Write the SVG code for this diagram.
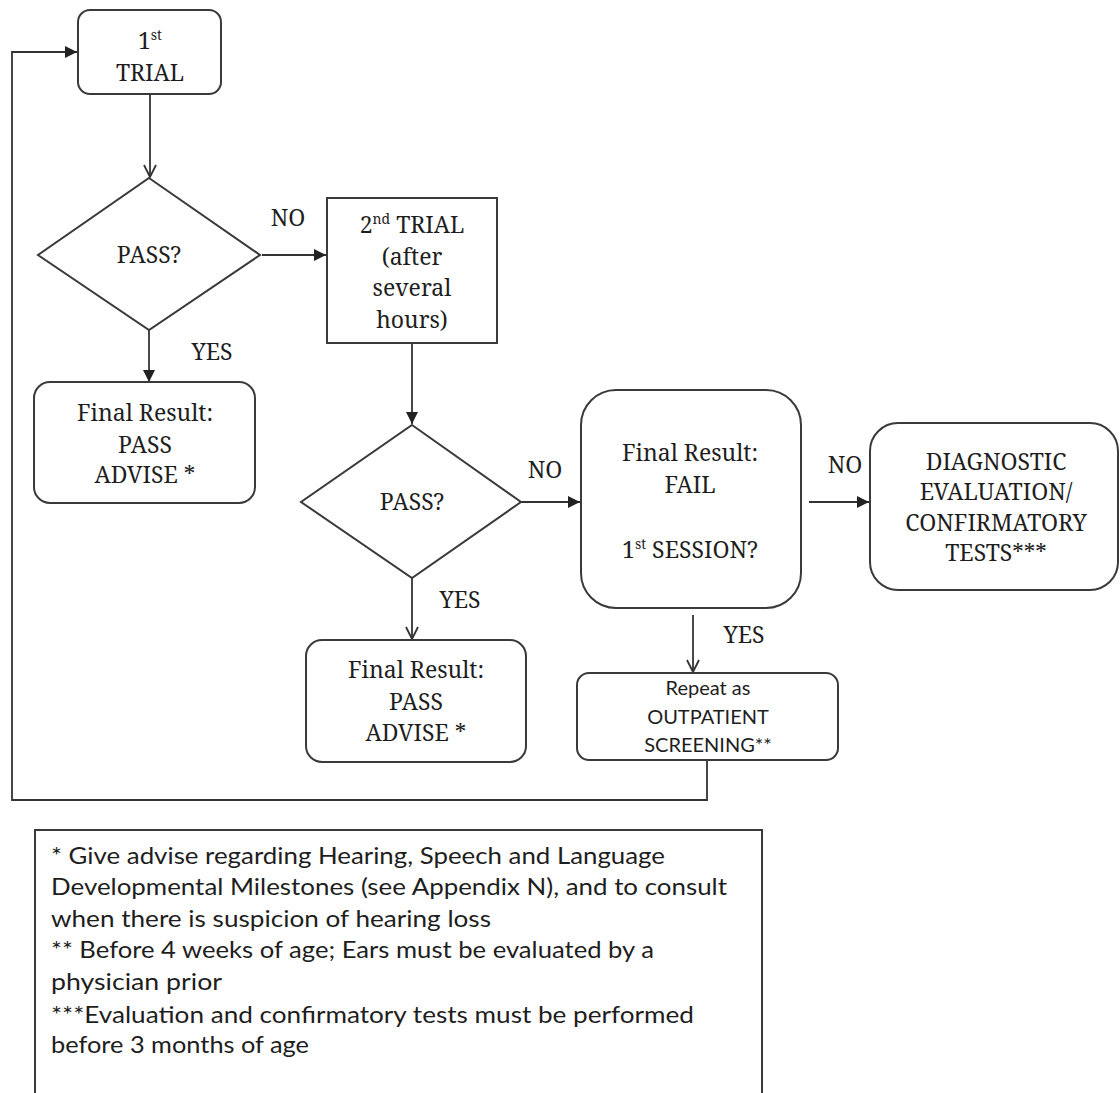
<svg xmlns="http://www.w3.org/2000/svg" width="1120" height="1093" viewBox="0 0 1120 1093">
<style>
.box{fill:#fff;stroke:#3a3a3a;stroke-width:2}
.ln{fill:none;stroke:#333;stroke-width:1.8}
.t{font-size:23px;fill:#1e1e1e;text-anchor:middle}
.s{font-size:20px;fill:#1e1e1e;text-anchor:middle}
.f{font-size:23px;fill:#1e1e1e}
.sup{font-size:14px}
</style>
<defs>
<marker id="fa" viewBox="0 0 12 12" refX="12" refY="6" markerWidth="12" markerHeight="12" markerUnits="userSpaceOnUse" orient="auto">
<path d="M0,0 L12,6 L0,12 Z" fill="#222"/>
</marker>
<marker id="oa" viewBox="0 0 14 14" refX="13" refY="7" markerWidth="14" markerHeight="14" markerUnits="userSpaceOnUse" orient="auto">
<path d="M1,1 L13,7 L1,13" fill="none" stroke="#333" stroke-width="1.8"/>
</marker>
</defs>
<rect width="1120" height="1093" fill="#fff"/>

<g id="connectors" font-family="'Noto Serif','Liberation Serif',serif">
<line class="ln" x1="150" y1="94" x2="150" y2="177" marker-end="url(#oa)"/>
<line class="ln" x1="262" y1="255" x2="326" y2="255" marker-end="url(#fa)"/>
<line class="ln" x1="149" y1="330" x2="149" y2="382" marker-end="url(#fa)"/>
<line class="ln" x1="412" y1="343" x2="412" y2="424" marker-end="url(#fa)"/>
<line class="ln" x1="521" y1="502" x2="580" y2="502" marker-end="url(#fa)"/>
<line class="ln" x1="412" y1="578" x2="412" y2="639" marker-end="url(#oa)"/>
<line class="ln" x1="693" y1="615" x2="693" y2="672" marker-end="url(#oa)"/>
<line class="ln" x1="809" y1="502" x2="869" y2="502" marker-end="url(#fa)"/>
<polyline class="ln" points="707,760 707,800 12,800 12,52 77,52" marker-end="url(#fa)"/>
<text class="t" x="288" y="226">NO</text>
<text class="t" x="212" y="360">YES</text>
<text class="t" x="545" y="478">NO</text>
<text class="t" x="460" y="608">YES</text>
<text class="t" x="744" y="643">YES</text>
<text class="t" x="845" y="473">NO</text>
</g>

<g font-family="'Noto Serif','Liberation Serif',serif">
<g id="trial1">
<rect class="box" x="78" y="10" width="143" height="84" rx="12"/>
<text class="t" x="150" y="49">1<tspan class="sup" dy="-9">st</tspan></text>
<text class="t" x="150" y="81">TRIAL</text>
</g>

<g id="pass1">
<polygon class="box" points="149,178 260,255 149,330 38,255"/>
<text class="t" x="149" y="263">PASS?</text>
</g>

<g id="trial2">
<rect class="box" x="327" y="198" width="170" height="145"/>
<text class="t" x="412" y="233">2<tspan class="sup" dy="-9">nd</tspan><tspan dy="9"> TRIAL</tspan></text>
<text class="t" x="412" y="265">(after</text>
<text class="t" x="412" y="296">several</text>
<text class="t" x="412" y="328">hours)</text>
</g>

<g id="result1">
<rect class="box" x="34" y="382" width="221" height="121" rx="16"/>
<text class="t" x="145" y="421">Final Result:</text>
<text class="t" x="145" y="453">PASS</text>
<text class="t" x="145" y="483">ADVISE *</text>
</g>

<g id="pass2">
<polygon class="box" points="412,425 521,502 412,578 301,502"/>
<text class="t" x="412" y="510">PASS?</text>
</g>

<g id="fail">
<rect class="box" x="581" y="390" width="220" height="218" rx="35"/>
<text class="t" x="690" y="461">Final Result:</text>
<text class="t" x="690" y="493">FAIL</text>
<text class="t" x="690" y="558">1<tspan class="sup" dy="-9">st</tspan><tspan dy="9"> SESSION?</tspan></text>
</g>

<g id="diagnostic">
<rect class="box" x="870" y="423" width="248" height="167" rx="28"/>
<text class="t" x="996" y="470">DIAGNOSTIC</text>
<text class="t" x="996" y="500">EVALUATION/</text>
<text class="t" x="996" y="531">CONFIRMATORY</text>
<text class="t" x="996" y="561">TESTS***</text>
</g>

<g id="result2">
<rect class="box" x="306" y="640" width="220" height="122" rx="16"/>
<text class="t" x="416" y="678">Final Result:</text>
<text class="t" x="416" y="710">PASS</text>
<text class="t" x="416" y="741">ADVISE *</text>
</g>
</g>

<g id="repeat" font-family="Lato,'Liberation Sans',sans-serif">
<rect class="box" x="577" y="673" width="261" height="87" rx="12"/>
<text class="s" x="708" y="695">Repeat as</text>
<text class="s" x="708" y="724">OUTPATIENT</text>
<text class="s" x="708" y="752">SCREENING**</text>
</g>

<g id="footnotes" font-family="Lato,'Liberation Sans',sans-serif">
<rect class="box" x="35" y="830" width="727" height="280"/>
<text class="f" x="51" y="864" textLength="614" lengthAdjust="spacingAndGlyphs">* Give advise regarding Hearing, Speech and Language</text>
<text class="f" x="51" y="895" textLength="676" lengthAdjust="spacingAndGlyphs">Developmental Milestones (see Appendix N), and to consult</text>
<text class="f" x="51" y="927" textLength="440" lengthAdjust="spacingAndGlyphs">when there is suspicion of hearing loss</text>
<text class="f" x="51" y="958" textLength="603" lengthAdjust="spacingAndGlyphs">** Before 4 weeks of age; Ears must be evaluated by a</text>
<text class="f" x="51" y="990" textLength="171" lengthAdjust="spacingAndGlyphs">physician prior</text>
<text class="f" x="51" y="1023" textLength="643" lengthAdjust="spacingAndGlyphs">***Evaluation and confirmatory tests must be performed</text>
<text class="f" x="51" y="1053" textLength="258" lengthAdjust="spacingAndGlyphs">before 3 months of age</text>
</g>
</svg>
